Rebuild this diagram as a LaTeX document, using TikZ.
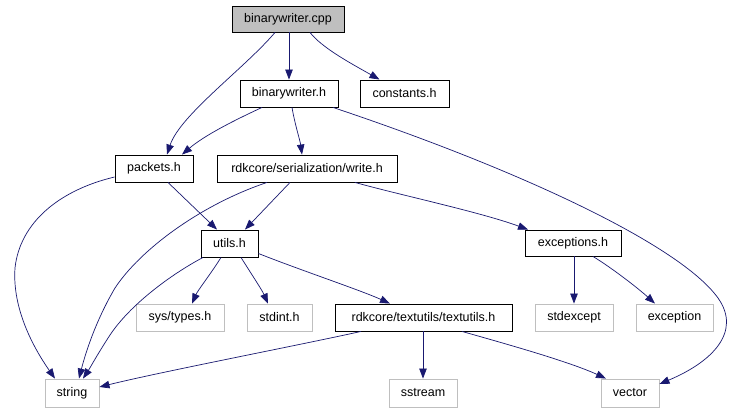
\documentclass[tikz,border=0pt]{standalone}
\usepackage{fontspec}
\setmainfont{Liberation Sans}
\usetikzlibrary{arrows.meta}
\definecolor{edgeblue}{HTML}{191970}
\definecolor{boxgray}{HTML}{BFBFBF}
\begin{document}
\begin{tikzpicture}[x=1pt,y=-1pt,
  every node/.style={font=\fontsize{12.5}{14}\selectfont, inner sep=0pt, anchor=center},
  box/.style={draw=black, line width=0.9pt, minimum height=27pt},
  extbox/.style={draw=boxgray, line width=0.9pt, minimum height=27pt},
  rootbox/.style={draw=black, fill=boxgray, line width=0.9pt, minimum height=26pt},
  dep/.style={draw=edgeblue, line width=0.7pt, -{Triangle[length=10pt,width=7.5pt]}}]
\useasboundingbox (0,0) rectangle (745,411);
\fill[white] (0,0) rectangle (745,411);
% nodes
\node[rootbox, minimum width=112pt] (cpp) at (288,19) {binarywriter.cpp};
\node[box, minimum width=98pt] (bh) at (289,93.5) {binarywriter.h};
\node[box, minimum width=89pt] (const) at (404.5,93.5) {constants.h};
\node[box, minimum width=78pt] (packets) at (154,168.5) {packets.h};
\node[box, minimum width=180pt] (write) at (307,168.5) {rdkcore/serialization/write.h};
\node[box, minimum width=57pt] (utils) at (229.5,243.5) {utils.h};
\node[box, minimum width=96pt, minimum height=26pt] (exc) at (573,243) {exceptions.h};
\node[extbox, minimum width=88pt] (systypes) at (180,317.5) {sys/types.h};
\node[extbox, minimum width=65pt] (stdint) at (279.5,317.5) {stdint.h};
\node[box, minimum width=177pt] (textutils) at (423.5,317.5) {rdkcore/textutils/textutils.h};
\node[extbox, minimum width=78pt] (stdexcept) at (574,317.5) {stdexcept};
\node[extbox, minimum width=77pt] (exception) at (674.5,317.5) {exception};
\node[extbox, minimum width=54pt, minimum height=28pt] (string) at (72,393) {string};
\node[extbox, minimum width=68pt, minimum height=28pt] (sstream) at (423,393) {sstream};
\node[extbox, minimum width=58pt, minimum height=28pt] (vector) at (630,393) {vector};
% edges
\draw[dep] (cpp.south -| bh.north) -- (bh.north);
\draw[dep] ([xshift=22pt]cpp.south) .. controls (322,48) and (352,64) .. ([xshift=-25pt]const.north);
\draw[dep] ([xshift=-13pt]cpp.south) .. controls (245,68) and (180,115) .. ([xshift=13pt]packets.north);
\draw[dep] ([xshift=-27pt]bh.south) .. controls (235,120) and (205,135) .. ([xshift=28pt]packets.north);
\draw[dep] ([xshift=3pt]bh.south) .. controls (295,125) and (300,140) .. ([xshift=-5pt]write.north);
\draw[dep] ([xshift=44pt]bh.south) .. controls (520,170) and (680,245) .. (718,298)
  .. controls (742,332) and (712,362) .. ([yshift=9pt]vector.east);
\draw[dep] ([yshift=-8.5pt]packets.west) .. controls (60,190) and (20,222) .. (15,268)
  .. controls (12,310) and (35,350) .. ([xshift=-17pt]string.north);
\draw[dep] ([xshift=14pt]packets.south) -- ([xshift=-12.5pt]utils.north);
\draw[dep] ([xshift=-17pt]write.south) -- ([xshift=15.5pt]utils.north);
\draw[dep] ([xshift=-40pt]write.south) .. controls (200,205) and (140,250) .. (115,288)
  .. controls (95,322) and (85,355) .. ([xshift=7pt]string.north);
\draw[dep] ([xshift=48pt]write.south) .. controls (400,195) and (480,212) .. ([xshift=-45pt]exc.north);
\draw[dep] ([xshift=-8.5pt]utils.south) .. controls (210,275) and (198,290) .. ([xshift=12pt]systypes.north);
\draw[dep] ([xshift=11.5pt]utils.south) .. controls (252,275) and (262,290) .. ([xshift=-11.5pt]stdint.north);
\draw[dep] ([yshift=-10pt]utils.east) .. controls (300,270) and (360,290) .. ([xshift=-33.5pt]textutils.north);
\draw[dep] ([xshift=-26.5pt]utils.south) .. controls (170,275) and (130,305) .. (110,335)
  .. controls (97,355) and (90,368) .. ([xshift=11pt]string.north);
\draw[dep] ([xshift=-62.5pt]textutils.south) .. controls (300,345) and (160,372) .. ([yshift=6pt]string.east);
\draw[dep] (textutils.south -| sstream.north) -- (sstream.north);
\draw[dep] ([xshift=38.5pt]textutils.south) .. controls (510,345) and (570,362) .. ([xshift=-24pt]vector.north);
\draw[dep] (exc.south -| stdexcept.north) -- (stdexcept.north);
\draw[dep] ([xshift=20pt]exc.south) .. controls (615,270) and (640,290) .. ([xshift=-19.5pt]exception.north);
\end{tikzpicture}
\end{document}
